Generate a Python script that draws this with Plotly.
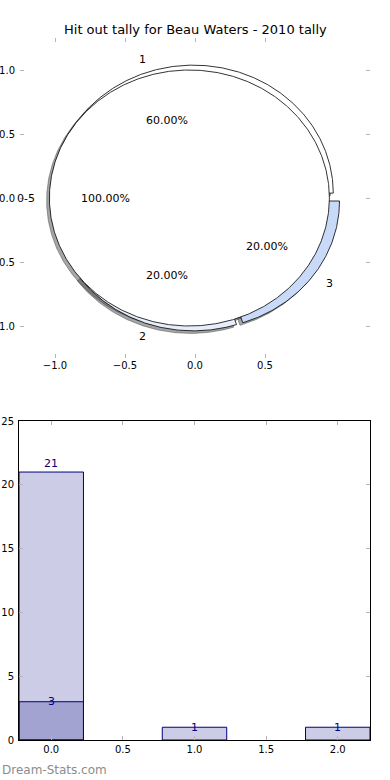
import numpy as np
import plotly.graph_objects as go

# ---------------- data ----------------
title_text = "Hit out tally for Beau Waters - 2010 tally"

inner_labels = ["0-5"]
inner_values = [5]
inner_colors = ["#ffffff"]

outer_labels = ["1", "2", "3"]
outer_values = [3, 1, 1]
outer_colors = ["#ffffff", "#e6eefc", "#c8daf8"]

bar_x = [0, 1, 2]
bar_values = [21, 1, 1]
bar2_x = [0]
bar2_values = [3]

x_ticks_top = [-1.0, -0.5, 0.0, 0.5]
y_ticks_top = [-1.0, -0.5, 0.0, 0.5, 1.0]

# ---------------- helpers ----------------
W, H = 390, 780
FONT = "DejaVu Sans"
EXPLODE = 0.04
RADIUS = 1.0
SHADOW = -0.02


def pie_wedges(values, radius, explode):
    tot = float(sum(values))
    res = []
    start = 0.0
    for v in values:
        t1, t2 = start, start + 360.0 * v / tot
        mid = np.deg2rad((t1 + t2) / 2)
        cx, cy = explode * np.cos(mid), explode * np.sin(mid)
        th = np.deg2rad(np.linspace(t1, t2, max(int(abs(t2 - t1) * 2), 10)))
        xs = list(cx + radius * np.cos(th))
        ys = list(cy + radius * np.sin(th))
        full = abs((t2 - t1) - 360.0) < 1e-9
        if not full:
            xs = [cx] + xs + [cx]
            ys = [cy] + ys + [cy]
        res.append(dict(xs=xs, ys=ys, cx=cx, cy=cy, mid=mid, frac=v / tot))
        start = t2
    return res


outer = pie_wedges(outer_values, RADIUS, EXPLODE)
inner = pie_wedges(inner_values, RADIUS, EXPLODE)

fig = go.Figure()

# shadows (drawn below all wedges)
for w in outer + inner:
    fig.add_trace(go.Scatter(
        x=[x + SHADOW for x in w["xs"]], y=[y + SHADOW for y in w["ys"]],
        mode="lines", fill="toself", fillcolor="rgba(77,77,77,0.5)",
        line=dict(color="rgba(77,77,77,0.5)", width=1),
        hoverinfo="skip", showlegend=False, xaxis="x", yaxis="y"))

for w, c in zip(outer, outer_colors):
    fig.add_trace(go.Scatter(
        x=w["xs"], y=w["ys"], mode="lines", fill="toself", fillcolor=c,
        line=dict(color="black", width=0.8), hoverinfo="skip",
        showlegend=False, xaxis="x", yaxis="y"))
for w, c in zip(inner, inner_colors):
    fig.add_trace(go.Scatter(
        x=w["xs"], y=w["ys"], mode="lines", fill="toself", fillcolor=c,
        line=dict(color="black", width=0.8), hoverinfo="skip",
        showlegend=False, xaxis="x", yaxis="y"))

annotations = []
for wl, labs in ((outer, outer_labels), (inner, inner_labels)):
    for w, lab in zip(wl, labs):
        lx = w["cx"] + 1.1 * RADIUS * np.cos(w["mid"])
        ly = w["cy"] + 1.1 * RADIUS * np.sin(w["mid"])
        annotations.append(dict(
            x=lx, y=ly, xref="x", yref="y", text=lab, showarrow=False,
            xanchor="left" if lx > 0 else "right", yanchor="middle",
            borderpad=0, xshift=1,
            font=dict(family=FONT, size=11, color="black")))
        px = w["cx"] + 0.6 * RADIUS * np.cos(w["mid"])
        py = w["cy"] + 0.6 * RADIUS * np.sin(w["mid"])
        annotations.append(dict(
            x=px, y=py, xref="x", yref="y", text="%.2f%%" % (100 * w["frac"]),
            showarrow=False, xanchor="center", yanchor="middle",
            font=dict(family=FONT, size=11, color="black")))

# ---------------- bars ----------------
fig.add_trace(go.Bar(
    x=bar_x, y=bar_values, width=0.45, marker=dict(
        color="rgba(0,0,128,0.2)", line=dict(color="#000080", width=1)),
    hoverinfo="skip", showlegend=False, xaxis="x2", yaxis="y2"))
fig.add_trace(go.Bar(
    x=bar2_x, y=bar2_values, width=0.45, marker=dict(
        color="rgba(0,0,128,0.2)", line=dict(color="#000080", width=1)),
    hoverinfo="skip", showlegend=False, xaxis="x2", yaxis="y2"))

top_val = max(bar_values)
for xs, vs in ((bar_x, bar_values), (bar2_x, bar2_values)):
    for x, v in zip(xs, vs):
        annotations.append(dict(
            x=x, y=v, xref="x2", yref="y2", text=str(v), showarrow=False,
            xanchor="center", yanchor="bottom" if v == top_val else "middle",
            font=dict(family=FONT, size=11, color="#000080")))

annotations.append(dict(
    x=195 / W, y=1 - 30 / H, xref="paper", yref="paper", text=title_text,
    showarrow=False, xanchor="center", yanchor="middle",
    font=dict(family=FONT, size=13, color="black")))
annotations.append(dict(
    x=0, y=1 - 770 / H, xref="paper", yref="paper", text="Dream-Stats.com",
    showarrow=False, xanchor="left", yanchor="middle",
    font=dict(family=FONT, size=12, color="#8c8c8c")))

tick_common = dict(ticks="inside", ticklen=4, tickcolor="#b5b5b5", tickwidth=1,
                   showgrid=False, zeroline=False, automargin=False,
                   tickfont=dict(family=FONT, size=10, color="black"))

fig.update_layout(
    width=W, height=H, margin=dict(l=0, r=0, t=0, b=0),
    paper_bgcolor="white", plot_bgcolor="white", barmode="overlay",
    annotations=annotations,
    xaxis=dict(domain=[20 / W, 370 / W], range=[-1.25, 1.25],
               tickvals=x_ticks_top, tickformat=".1f", showline=False,
               mirror="allticks", **tick_common),
    yaxis=dict(domain=[1 - 358 / H, 1 - 38 / H], range=[-1.25, 1.25],
               tickvals=y_ticks_top, tickformat=".1f", showline=False,
               mirror="allticks", ticklabelstandoff=4, **tick_common),
    xaxis2=dict(domain=[19 / W, 370 / W], range=[-0.225, 2.225], dtick=0.5,
                tick0=0, tickformat=".1f", showline=True, linecolor="black",
                linewidth=1, mirror="allticks", anchor="y2", **tick_common),
    yaxis2=dict(domain=[1 - 740 / H, 1 - 421 / H], range=[0, 25], dtick=5,
                showline=True, linecolor="black", linewidth=1,
                mirror="allticks", anchor="x2", ticklabelstandoff=2,
                **tick_common),
)

fig.write_html("out.html", config={"displayModeBar": False},
               post_script="document.body.style.margin='0';"
                           "document.body.style.overflow='hidden';")
